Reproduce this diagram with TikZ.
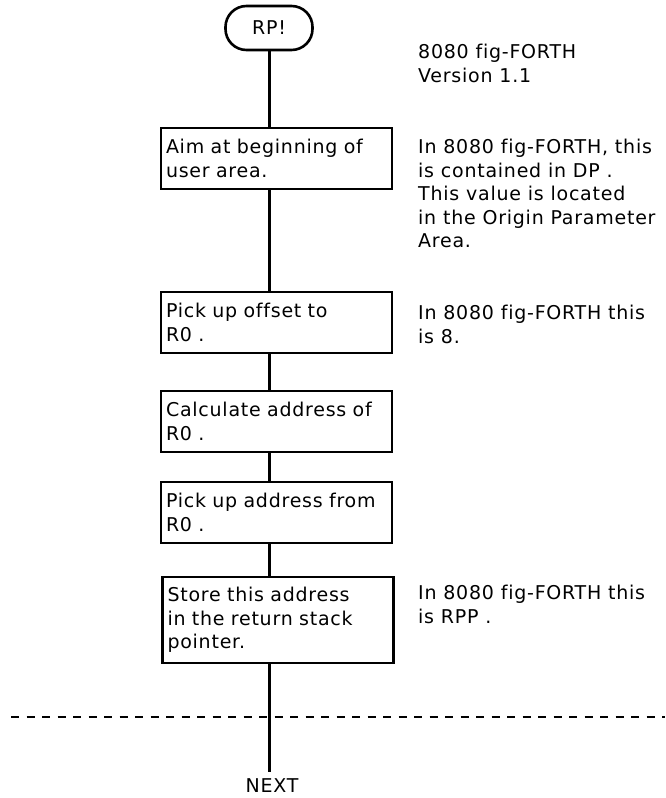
\documentclass[tikz,border=0pt]{standalone}
\usepackage{fontspec}
\setmainfont{DejaVu Sans}[LetterSpace=4,Ligatures=NoCommon]
\newcommand\diafont{\fontsize{19pt}{23.5pt}\selectfont}
\begin{document}
\begin{tikzpicture}[x=1pt,y=-1pt,
  box/.style={draw, line width=2.6pt, minimum width=231pt, text width=221pt,
    inner xsep=5pt, minimum height=61pt, align=left, font=\diafont},
  term/.style={draw, line width=2.6pt, rounded corners=21pt, minimum width=87pt,
    minimum height=44pt, font=\diafont},
  note/.style={anchor=west, align=left, inner sep=0pt, font=\diafont},
  flow/.style={line width=3pt},
  sep/.style={line width=2.6pt, dash pattern=on 8pt off 7.5pt}]
\useasboundingbox (0,0) rectangle (665,798);
\node[term] (t) at (269,28) {RP!};
\node[box] (b1) at (276.5,158.5) {Aim at beginning of\\user area.};
\node[box] (b2) at (276.5,322.5) {Pick up offset to\\R0 .};
\node[box] (b3) at (276.5,421.5) {Calculate address of\\R0 .};
\node[box] (b4) at (276.5,512.5) {Pick up address from\\R0 .};
\node[box, minimum height=86pt] (b5) at (278,620) {Store this address\\in the return stack\\pointer.};
\node[anchor=north, inner sep=6pt, font=\diafont] (nx) at (272,772) {NEXT};
\node[note] (n0) at (418,63.5) {8080 fig-FORTH\\Version 1.1};
\node[note] (n1) at (418,193.5) {In 8080 fig-FORTH, this\\is contained in DP .\\This value is located\\in the Origin Parameter\\Area.};
\node[note] (n2) at (418,324.5) {In 8080 fig-FORTH this\\is 8.};
\node[note] (n3) at (418,604.5) {In 8080 fig-FORTH this\\is RPP .};
\draw[flow] (t.south) -- (t.south |- b1.north);
\draw[flow] (t.south |- b1.south) -- (t.south |- b2.north);
\draw[flow] (t.south |- b2.south) -- (t.south |- b3.north);
\draw[flow] (t.south |- b3.south) -- (t.south |- b4.north);
\draw[flow] (t.south |- b4.south) -- (t.south |- b5.north);
\draw[flow] (t.south |- b5.south) -- (t.south |- nx.north);
\coordinate (dl) at (11,717);
\coordinate (dr) at (665,717);
\draw[sep] (dl) -- (dr);
\end{tikzpicture}
\end{document}
